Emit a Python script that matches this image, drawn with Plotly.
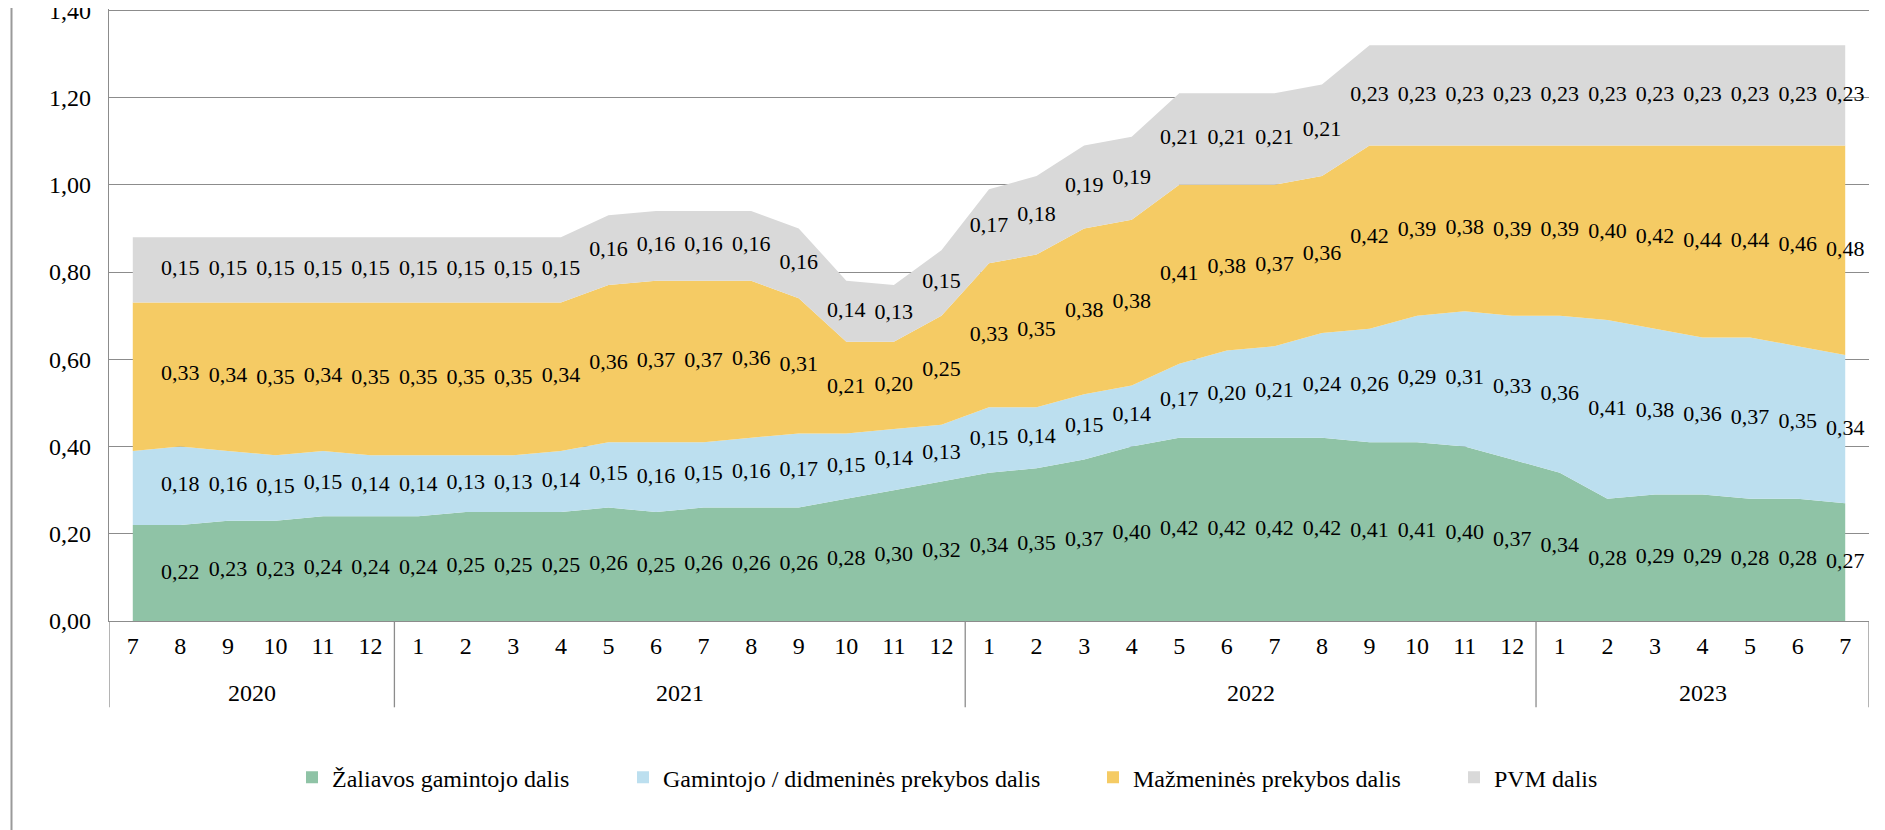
import numpy as np
import plotly.graph_objects as go

# months 2020-7 .. 2023-7
years = ["2020"] * 6 + ["2021"] * 12 + ["2022"] * 12 + ["2023"] * 7
months = ([str(m) for m in range(7, 13)] + [str(m) for m in range(1, 13)] * 2
          + [str(m) for m in range(1, 8)])

zaliavos = [0.22, 0.22, 0.23, 0.23, 0.24, 0.24,
            0.24, 0.25, 0.25, 0.25, 0.26, 0.25, 0.26, 0.26, 0.26, 0.28, 0.30, 0.32,
            0.34, 0.35, 0.37, 0.40, 0.42, 0.42, 0.42, 0.42, 0.41, 0.41, 0.40, 0.37,
            0.34, 0.28, 0.29, 0.29, 0.28, 0.28, 0.27]
gamintojo = [0.17, 0.18, 0.16, 0.15, 0.15, 0.14,
             0.14, 0.13, 0.13, 0.14, 0.15, 0.16, 0.15, 0.16, 0.17, 0.15, 0.14, 0.13,
             0.15, 0.14, 0.15, 0.14, 0.17, 0.20, 0.21, 0.24, 0.26, 0.29, 0.31, 0.33,
             0.36, 0.41, 0.38, 0.36, 0.37, 0.35, 0.34]
mazmenines = [0.34, 0.33, 0.34, 0.35, 0.34, 0.35,
              0.35, 0.35, 0.35, 0.34, 0.36, 0.37, 0.37, 0.36, 0.31, 0.21, 0.20, 0.25,
              0.33, 0.35, 0.38, 0.38, 0.41, 0.38, 0.37, 0.36, 0.42, 0.39, 0.38, 0.39,
              0.39, 0.40, 0.42, 0.44, 0.44, 0.46, 0.48]
pvm = [0.15, 0.15, 0.15, 0.15, 0.15, 0.15,
       0.15, 0.15, 0.15, 0.15, 0.16, 0.16, 0.16, 0.16, 0.16, 0.14, 0.13, 0.15,
       0.17, 0.18, 0.19, 0.19, 0.21, 0.21, 0.21, 0.21, 0.23, 0.23, 0.23, 0.23,
       0.23, 0.23, 0.23, 0.23, 0.23, 0.23, 0.23]

names = ["Žaliavos gamintojo dalis", "Gamintojo / didmeninės prekybos dalis",
         "Mažmeninės prekybos dalis", "PVM dalis"]
colors = ["#8fc3a6", "#bcdfef", "#f5cb64", "#d9d9d9"]
series = [zaliavos, gamintojo, mazmenines, pvm]
y_ticks = [0.0, 0.2, 0.4, 0.6, 0.8, 1.0, 1.2, 1.4]

# text start of each legend entry, px from left of plot area
legend_text_px = [221, 552, 1022, 1383]

x = np.arange(len(months))
fig = go.Figure()

base = np.zeros(len(months))
for name, col, vals in zip(names, colors, series):
    vals = np.array(vals)
    fig.add_trace(go.Scatter(
        x=x, y=vals, stackgroup="one", mode="none",
        fillcolor=col, name=name, showlegend=False, hoverinfo="skip"))
    mid = base + vals / 2
    # first month has no data labels in the source chart
    fig.add_trace(go.Scatter(
        x=x[1:], y=mid[1:], mode="text",
        text=[f"{v:.2f}".replace(".", ",") for v in vals[1:]],
        textfont=dict(size=22, color="black", family="Liberation Serif"),
        showlegend=False, hoverinfo="skip"))
    base = base + vals

# legend entries (small squares), one legend each so spacing matches
for i, (name, col) in enumerate(zip(names, colors)):
    key = "legend" if i == 0 else f"legend{i + 1}"
    fig.add_trace(go.Scatter(
        x=[0], y=[None], mode="markers",
        marker=dict(symbol="square", size=12, color=col),
        name=name, legend=key, showlegend=True))

# page body has an 8px margin, so the figure is 8px smaller than the window
plot_w = 1877 - 101 - 16
plot_h = 822 - 1 - 209
legend_cfg = {}
for i, px in enumerate(legend_text_px):
    key = "legend" if i == 0 else f"legend{i + 1}"
    legend_cfg[key] = dict(x=(px - 38) / plot_w, xanchor="left", y=-0.256,
                           yanchor="middle", orientation="h",
                           font=dict(size=24, color="black"),
                           bgcolor="rgba(0,0,0,0)")

axis_grey = "#8c8c8c"
fig.update_layout(
    width=1877, height=822,
    margin=dict(l=101, r=16, t=1, b=209, autoexpand=False),
    paper_bgcolor="white", plot_bgcolor="white",
    font=dict(family="Liberation Serif", size=24, color="black"),
    separators=", ",
    **legend_cfg,
)
fig.update_yaxes(range=[0, 1.403], tickmode="array", tickvals=y_ticks,
                 tickformat=".2f", automargin=False, ticklabeloverflow="allow",
                 showgrid=True, gridcolor=axis_grey, gridwidth=1.3,
                 showline=True, linecolor=axis_grey, linewidth=1.3,
                 zeroline=False, ticks="", ticklabelstandoff=12)
fig.update_xaxes(range=[-0.5, len(months) - 0.5], tickmode="array",
                 tickvals=x, ticktext=months, automargin=False,
                 showline=True, linecolor=axis_grey, linewidth=1.3,
                 showgrid=False, zeroline=False, ticks="", ticklabelstandoff=3)

# year row under the month labels, with dividers between years
year_names = list(dict.fromkeys(years))
yarr = np.array(years)
div_y = -(707 - 620.7) / plot_h
fig.add_shape(type="line", xref="x", yref="paper", x0=-0.5, x1=-0.5,
              y0=0, y1=div_y, line=dict(color=axis_grey, width=1.3))
for yr in year_names:
    idx = np.where(yarr == yr)[0]
    fig.add_annotation(x=idx.mean(), y=-(693 - 620.7) / plot_h, xref="x",
                       yref="paper", text=yr, showarrow=False,
                       yanchor="middle", font=dict(size=24))
    fig.add_shape(type="line", xref="x", yref="paper",
                  x0=idx[-1] + 0.5, x1=idx[-1] + 0.5, y0=0, y1=div_y,
                  line=dict(color=axis_grey, width=1.3))

# outer chart frame (no bottom edge visible in the source)
fig.add_shape(type="rect", xref="paper", yref="paper",
              x0=(11.5 - 109) / plot_w, x1=(1879.5 - 109) / plot_w,
              y0=-0.4, y1=1.1, line=dict(color="#9a9a9a", width=2))

fig.write_html("out.html")
